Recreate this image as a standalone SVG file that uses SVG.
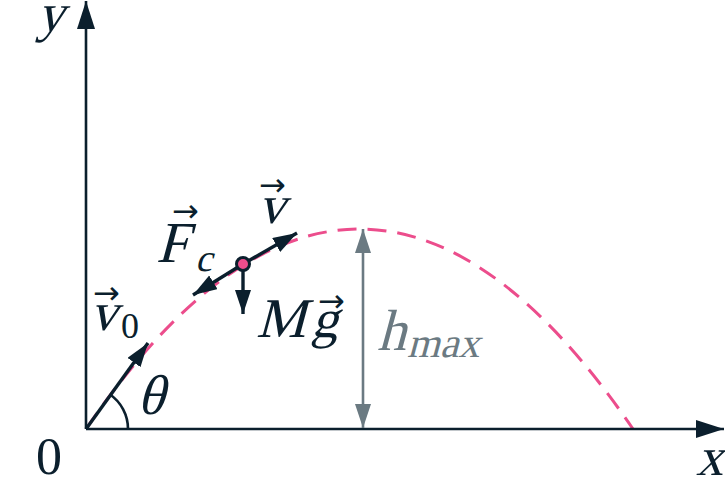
<svg xmlns="http://www.w3.org/2000/svg" width="725" height="478" viewBox="0 0 725 478">
<style>
.ax{stroke:#0b1f2d;stroke-width:2.6;fill:none}
.vec{stroke:#0b1f2d;stroke-width:3.4;fill:none}
.traj{stroke:#ec4d8c;stroke-width:3;fill:none;stroke-dasharray:19 11}
.hm{stroke:#6b7a82;stroke-width:2.6;fill:none}
.t{fill:#0b1f2d}
.ar{font-family:'DejaVu Sans',sans-serif;fill:#0b1f2d}
.g{fill:#6b7a82}
</style>
<defs>
<marker id="axh" markerUnits="userSpaceOnUse" markerWidth="30" markerHeight="20" refX="28" refY="9" orient="auto">
<path d="M0,0 L28,9 L0,18 Z" fill="#0b1f2d"/>
</marker>
<marker id="vh" markerUnits="userSpaceOnUse" markerWidth="26" markerHeight="18" refX="24" refY="8" orient="auto">
<path d="M0,0 L24,8 L0,16 Z" fill="#0b1f2d"/>
</marker>
<marker id="gh" markerUnits="userSpaceOnUse" markerWidth="26" markerHeight="18" refX="24" refY="8" orient="auto">
<path d="M0,0 L24,8 L0,16 Z" fill="#6b7a82"/>
</marker>
</defs>
<g id="trajectory">
<path class="traj" d="M86,429 Q359.5,29 633,429"/>
</g>
<g id="axes" font-family="Liberation Serif, Times New Roman, serif">
<line class="ax" x1="86" y1="429" x2="724" y2="429" marker-end="url(#axh)"/>
<line class="ax" x1="86" y1="429" x2="86" y2="1" marker-end="url(#axh)"/>
<text class="t" transform="translate(37,31) skewX(-15)" font-size="54">y</text>
<text class="t" transform="translate(696,475) skewX(-15)" font-size="54">x</text>
<text class="t" x="36" y="474" font-size="52">0</text>
</g>
<g id="connectors">
<line class="vec" x1="86" y1="429" x2="148" y2="343" marker-end="url(#vh)"/>
<path class="ax" d="M128,429 A42,42 0 0 0 109.7,394.3"/>
<line class="vec" x1="243" y1="264" x2="297" y2="233" marker-end="url(#vh)"/>
<line class="vec" x1="243" y1="264" x2="193" y2="295" marker-end="url(#vh)"/>
<line class="vec" x1="243" y1="264" x2="243" y2="314" marker-end="url(#vh)"/>
<line class="hm" x1="363" y1="300" x2="363" y2="229" marker-end="url(#gh)"/>
<line class="hm" x1="363" y1="300" x2="363" y2="428" marker-end="url(#gh)"/>
</g>
<g id="particle">
<circle cx="243" cy="264" r="6.5" fill="#ec4d8c" stroke="#0b1f2d" stroke-width="3"/>
</g>
<g id="labels" font-family="Liberation Serif, Times New Roman, serif">
<text class="t" transform="translate(90,330) skewX(-15)" font-size="54">v</text>
<text class="ar" x="93" y="304" font-size="32">→</text>
<text class="t" x="121" y="338" font-size="36">0</text>
<text class="t" transform="translate(137,414) skewX(-15)" font-size="56">θ</text>
<text class="t" transform="translate(156,262) skewX(-15)" font-size="58">F</text>
<text class="ar" x="172" y="222" font-size="32">→</text>
<text class="t" transform="translate(195,271) skewX(-15)" font-size="38">c</text>
<text class="t" transform="translate(258,223) skewX(-15)" font-size="54">v</text>
<text class="ar" x="259" y="196" font-size="32">→</text>
<text class="t" transform="translate(256,337) skewX(-15)" font-size="56">M</text>
<text class="t" transform="translate(311,337) skewX(-15)" font-size="54">g</text>
<text class="ar" x="318" y="312" font-size="32">→</text>
<text class="t g" transform="translate(377,350) skewX(-15)" font-size="58">h</text>
<text class="t g" transform="translate(407,357) skewX(-15)" font-size="42">max</text>
</g>
</svg>
